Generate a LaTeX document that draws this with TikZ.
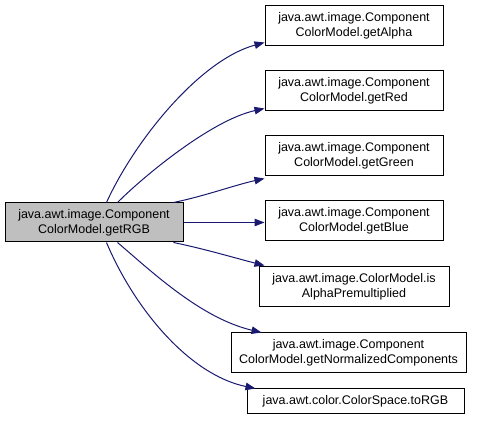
\documentclass[tikz,border=0pt]{standalone}
\usepackage{fontspec}
\setmainfont{Liberation Sans}
\usetikzlibrary{arrows.meta,calc}
\definecolor{edgeblue}{HTML}{191970}
\definecolor{mainfill}{HTML}{BFBFBF}
\begin{document}
\begin{tikzpicture}[x=1pt,y=-1pt,
  fn/.style={draw=black,line width=1pt,fill=white,inner sep=0pt,align=center,
    font=\fontsize{12.5}{15}\selectfont,minimum height=40pt},
  call/.style={draw=edgeblue,line width=1pt,-{Triangle[length=10pt,width=7.5pt]},fill=none}]
\useasboundingbox (0,0) rectangle (483,430);
\node[fn,fill=mainfill,minimum width=178pt,minimum height=39pt] (main) at (94,222.5) {java.awt.image.Component\\ColorModel.getRGB};
\node[fn,minimum width=178pt] (alpha) at (354,26) {java.awt.image.Component\\ColorModel.getAlpha};
\node[fn,minimum width=178pt] (red) at (354,91) {java.awt.image.Component\\ColorModel.getRed};
\node[fn,minimum width=178pt] (green) at (354,156) {java.awt.image.Component\\ColorModel.getGreen};
\node[fn,minimum width=178pt] (blue) at (354,221) {java.awt.image.Component\\ColorModel.getBlue};
\node[fn,minimum width=190pt] (isalpha) at (354,287) {java.awt.image.ColorModel.is\\AlphaPremultiplied};
\node[fn,minimum width=235pt] (norm) at (348.5,353) {java.awt.image.Component\\ColorModel.getNormalizedComponents};
\node[fn,minimum width=217pt,minimum height=25pt] (torgb) at (355.5,401.5) {java.awt.color.ColorSpace.toRGB};
\draw[call] ($(main.north west)+(102,0)$) .. controls (135,140) and (200,60) .. ($(alpha.south west)+(0,-4)$);
\draw[call] ($(main.north west)+(113,0)$) .. controls (145,175) and (212,120) .. ($(red.south west)+(0,-3)$);
\draw[call] ($(main.north east)+(-10,0)$) .. controls (205,196) and (235,185) .. ($(green.south west)+(0,2)$);
\draw[call] (main.east) -- (main.east -| blue.west);
\draw[call] ($(main.south east)+(-10,0)$) .. controls (205,249) and (235,258) .. ($(isalpha.north west)+(6,-1)$);
\draw[call] ($(main.south west)+(113,0)$) .. controls (150,270) and (200,318) .. ($(norm.north west)+(31,0)$);
\draw[call] ($(main.south west)+(102,0)$) .. controls (135,310) and (190,375) .. ($(torgb.north west)+(9,0)$);
\end{tikzpicture}
\end{document}
